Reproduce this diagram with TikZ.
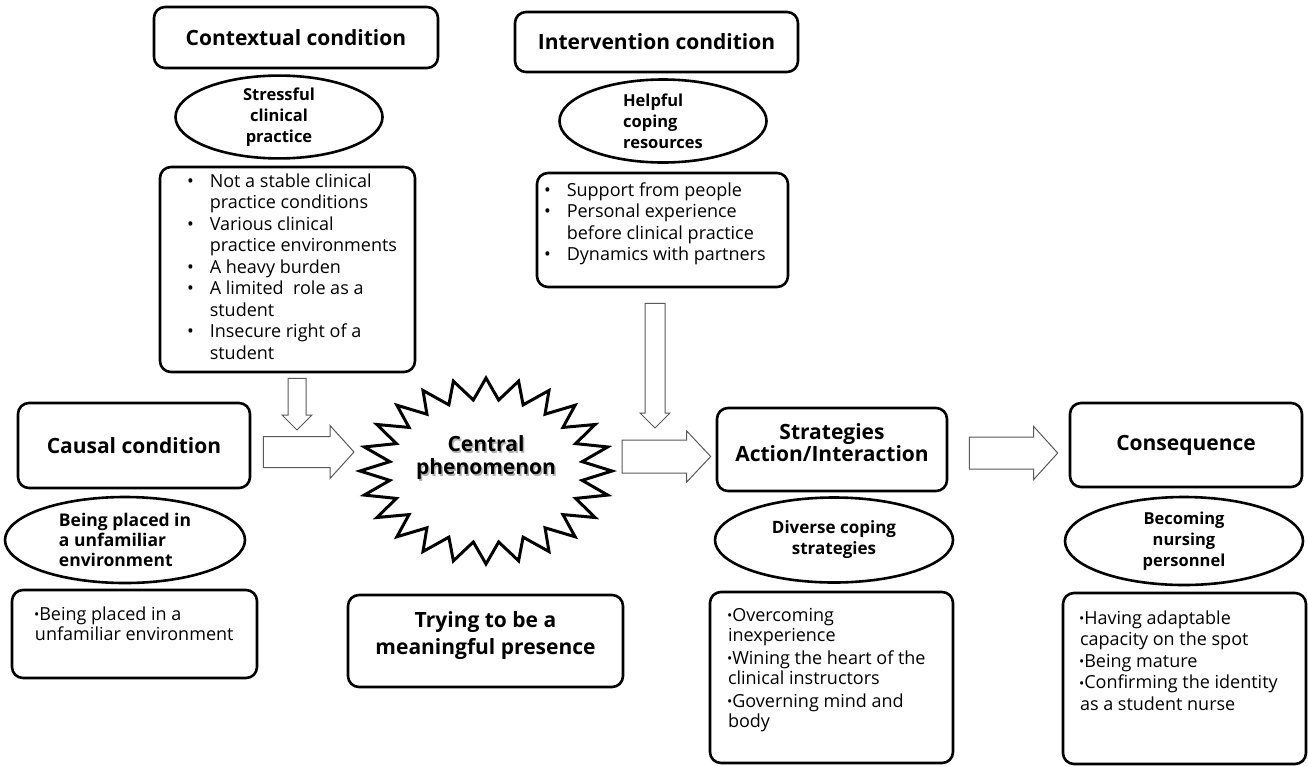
\documentclass[tikz,border=0pt]{standalone}
\usepackage{fontspec}
\setmainfont{Open Sans}
\usetikzlibrary{shapes.geometric,calc}

\newcommand\rblock[4]{%
  \draw[hollow] let \p1=(#1),\p2=(#2) in
    (\x1,\y1+#3) -- (\x2-24pt,\y1+#3) -- (\x2-24pt,\y1+#4) -- (\x2,\y1)
    -- (\x2-24pt,\y1-#4) -- (\x2-24pt,\y1-#3) -- (\x1,\y1-#3) -- cycle;}
\newcommand\dblock[3]{%
  \draw[hollow] let \p1=(#1),\p2=(#2) in
    (\x1-#3,\y1) -- (\x1-#3,\y2+15pt) -- (\x1-15pt,\y2+15pt) -- (\x1,\y2)
    -- (\x1+15pt,\y2+15pt) -- (\x1+#3,\y2+15pt) -- (\x1+#3,\y1) -- cycle;}
\newcommand\dotb{\raisebox{0.5pt}{\fontsize{14}{14}\selectfont•}}

\begin{document}
\begin{tikzpicture}[x=1pt,y=-1pt,line join=round,
  headbox/.style={draw,line width=2.6pt,rounded corners=11pt,align=center,inner sep=0pt,
    font=\fontsize{21}{21.5}\selectfont\bfseries},
  tag/.style={draw,ellipse,line width=2.6pt,align=center,inner sep=0pt,
    font=\fontsize{16.5}{21}\selectfont\bfseries},
  listbox/.style={draw,line width=2.6pt,rounded corners=11pt,inner sep=0pt,
    font=\fontsize{18}{21.5}\selectfont},
  coretext/.style={align=center,font=\fontsize{21}{23}\selectfont\bfseries},
  hollow/.style={draw=black!65,line width=1pt,line join=miter,fill=white},
  spiky/.style={draw,line width=3pt,line join=miter}]
\useasboundingbox (0,0) rectangle (1308,766);

\node[headbox,minimum width=284,minimum height=61] (ctxhead) at (296,37.5) {Contextual condition};
\node[tag,minimum width=207,minimum height=82] (ctxtag) at (279,117) {Stressful\\clinical\\practice};
\node[listbox] (ctxlist) at (287.5,269.5) {\parbox[c][205pt][t]{255pt}{\vspace*{5pt}%
  \begin{tabular}{@{\hspace{27pt}}l@{\hspace{16pt}}l@{}}
  • & Not a stable clinical\\ & practice conditions\\
  • & Various clinical\\ & practice environments\\
  • & A heavy burden\\
  • & A limited \ role as a\\ & student\\
  • & Insecure right of a\\ & student
  \end{tabular}}};

\node[headbox,minimum width=283,minimum height=60] (inthead) at (656.5,42) {Intervention condition};
\node[tag,align=left,minimum width=207,minimum height=83] (inttag) at (663,121) {Helpful\\coping\\resources};
\node[listbox] (intlist) at (662.5,230) {\parbox[c][114pt][t]{251pt}{\vspace*{8pt}%
  \begin{tabular}{@{\hspace{7pt}}l@{\hspace{16pt}}l@{}}
  • & Support from people\\
  • & Personal experience\\ & before clinical practice\\
  • & Dynamics with partners
  \end{tabular}}};

\node[headbox,minimum width=232,minimum height=85] (causal) at (134,445.5) {Causal condition};
\node[tag,align=left,minimum width=240,minimum height=86,font=\fontsize{17.5}{20}\selectfont\bfseries] (caustag) at (125,540)
  {Being placed in\\a unfamiliar\\environment};
\node[listbox,font=\fontsize{18}{20}\selectfont] (causlist) at (134.5,634) {\parbox[c][88pt][t]{245pt}{\vspace*{16pt}%
  \begin{tabular}{@{\hspace{22pt}}l@{}}
  \dotb Being placed in a\\ \hspace*{1pt}unfamiliar environment
  \end{tabular}}};

\draw[spiky] plot[samples at={0,...,47}]
  ({486+(isodd(\x)?97:126)*cos(7.5*\x)},{471+(isodd(\x)?71.6:93)*sin(7.5*\x)}) -- cycle;
\node[coretext,text=black!30] at (487.5,459.5) {Central\\phenomenon};
\node[coretext] (core) at (486,458) {Central\\phenomenon};
\coordinate (coreW) at (354,452);
\coordinate (coreE) at (622,456.5);
\coordinate (coreN) at (297,430);
\node[headbox,minimum width=275,minimum height=92,font=\fontsize{21}{27}\selectfont\bfseries] (trying) at (485.5,641)
  {Trying to be a\\meaningful presence\\[-12pt]\mbox{}};

\node[headbox,minimum width=230,minimum height=83] (strat) at (832,449.5) {Strategies\\Action/Interaction\\[-8pt]\mbox{}};
\coordinate (stratN) at (655,428);
\node[tag,minimum width=238,minimum height=85,font=\fontsize{17}{21}\selectfont\bfseries] (strattag) at (834,540)
  {Diverse coping\\strategies};
\node[listbox,font=\fontsize{18}{20}\selectfont] (stratlist) at (831.5,677.5) {\parbox[c][171pt][t]{243pt}{\vspace*{15pt}%
  \begin{tabular}{@{\hspace{17pt}}l@{}}
  \dotb Overcoming\\ \hspace*{1pt}inexperience\\[3pt]
  \dotb Wining the heart of the\\ \hspace*{1pt}clinical instructors\\[3pt]
  \dotb Governing mind and\\ \hspace*{1pt}body
  \end{tabular}}};

\node[headbox,minimum width=232,minimum height=84] (conseq) at (1186,445) {Consequence};
\node[tag,minimum width=238,minimum height=88] (constag) at (1184,541) {Becoming\\nursing\\personnel};
\node[listbox] (conslist) at (1184.5,678.5) {\parbox[c][171pt][t]{243pt}{\vspace*{16pt}%
  \begin{tabular}{@{\hspace{16pt}}l@{}}
  \dotb Having adaptable\\ \hspace*{1pt}capacity on the spot\\
  \dotb Being mature\\
  \dotb Confirming the identity\\ \hspace*{1pt}as a student nurse
  \end{tabular}}};

\rblock{$(causal.east)+(12,6.5)$}{coreW}{15.5pt}{26.5pt}
\rblock{coreE}{$(strat.west)+(-5,7)$}{16.5pt}{25.5pt}
\rblock{$(strat.east)+(21,3.5)$}{$(conseq.west)+(-11,8)$}{16pt}{26.5pt}
\dblock{$(ctxlist.south)+(9.5,5)$}{coreN}{9pt}
\dblock{$(intlist.south)+(-7.5,15)$}{stratN}{10pt}
\end{tikzpicture}
\end{document}
